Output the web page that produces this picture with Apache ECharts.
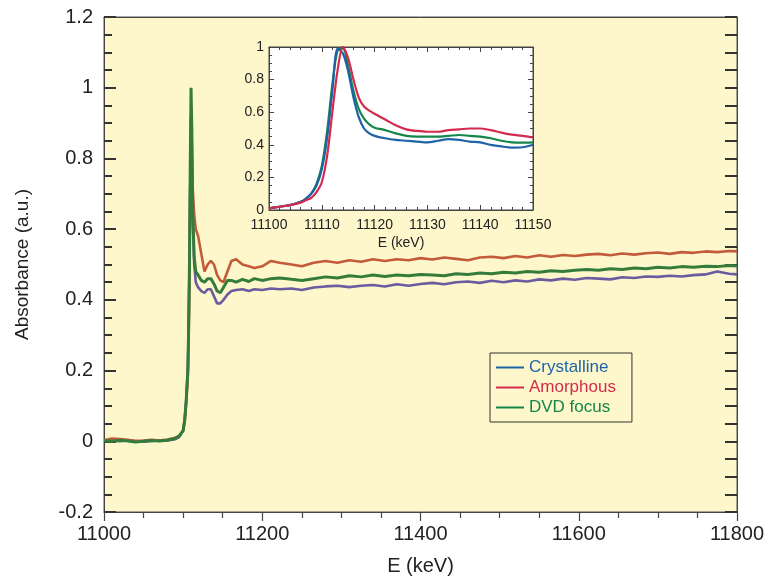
<!DOCTYPE html>
<html><head><meta charset="utf-8">
<script src="https://cdn.jsdelivr.net/npm/echarts@6/dist/echarts.min.js"></script>
<style>html,body{margin:0;padding:0;background:#fff}#c{width:769px;height:581px}</style>
</head><body><div id="c"></div>
<script>
// ---- main panel data ----
const mainE = [
 11000,11010,11020,11030,11040,11050,11060,11070,11080,11090,
 11095,11100,11102,11104,11106,11107,11108,11109,11110,11111,
 11112,11114,11116,11119,11123,11127,11131,11135,11139,11143,
 11147,11151,11156,11161,11167,11175,11183,11190,11200,11211,
 11222,11237,11250,11265,11280,11295,11310,11325,11340,11355,
 11370,11385,11400,11415,11430,11445,11460,11475,11490,11505,
 11520,11535,11550,11565,11580,11595,11610,11625,11640,11655,
 11670,11685,11700,11715,11730,11745,11760,11775,11790,11800];
const mainDVD = [
 0.002,0.000,0.003,0.001,-0.002,0.000,0.002,0.001,0.003,0.008,
 0.015,0.03,0.06,0.12,0.20,0.32,0.50,0.78,1.00,0.88,
 0.66,0.52,0.48,0.47,0.455,0.45,0.46,0.46,0.445,0.425,
 0.42,0.435,0.455,0.455,0.45,0.458,0.452,0.46,0.455,0.46,
 0.462,0.458,0.455,0.46,0.465,0.462,0.468,0.465,0.47,0.466,
 0.47,0.468,0.472,0.47,0.468,0.474,0.472,0.476,0.474,0.478,
 0.476,0.48,0.478,0.482,0.48,0.484,0.486,0.484,0.488,0.486,
 0.49,0.488,0.492,0.49,0.494,0.492,0.495,0.494,0.497,0.496];
const mainAmorphous = [
 0.003,0.008,0.006,0.004,0.001,0.002,0.004,0.002,0.005,0.01,
 0.015,0.03,0.06,0.11,0.19,0.30,0.46,0.72,0.92,0.85,
 0.72,0.64,0.60,0.58,0.53,0.48,0.50,0.51,0.50,0.47,
 0.455,0.45,0.48,0.51,0.515,0.50,0.495,0.49,0.495,0.51,
 0.505,0.50,0.495,0.505,0.51,0.505,0.512,0.508,0.515,0.51,
 0.515,0.512,0.518,0.514,0.52,0.516,0.512,0.52,0.522,0.518,
 0.524,0.52,0.526,0.522,0.527,0.524,0.528,0.53,0.526,0.531,
 0.528,0.532,0.534,0.53,0.535,0.533,0.537,0.535,0.538,0.537];
const mainCrystalline = [
 0.001,0.002,0.000,0.002,0.001,-0.001,0.001,0.003,0.002,0.006,
 0.012,0.03,0.06,0.12,0.21,0.33,0.50,0.72,0.86,0.80,
 0.64,0.50,0.45,0.435,0.425,0.42,0.43,0.43,0.41,0.39,
 0.39,0.40,0.415,0.425,0.428,0.43,0.425,0.43,0.428,0.432,
 0.43,0.432,0.428,0.435,0.438,0.44,0.436,0.44,0.442,0.438,
 0.444,0.44,0.445,0.448,0.444,0.45,0.452,0.448,0.454,0.45,
 0.455,0.452,0.458,0.455,0.46,0.457,0.462,0.46,0.458,0.464,
 0.462,0.466,0.465,0.468,0.466,0.47,0.472,0.48,0.474,0.472];

// ---- inset data ----
const insetE = [
 11100,11102,11104,11106,11107,11108,11109,11110,11111,11112,
 11113,11114,11115,11116,11117,11118,11119,11120,11122,11124,
 11126,11128,11130,11132,11134,11136,11138,11140,11142,11144,
 11146,11148,11150];
const insetCrystalline = [
 0.01,0.02,0.03,0.05,0.07,0.10,0.15,0.25,0.44,0.73,
 0.99,0.96,0.85,0.69,0.57,0.50,0.47,0.455,0.44,0.43,
 0.425,0.42,0.415,0.425,0.435,0.43,0.42,0.415,0.40,0.39,
 0.383,0.385,0.40];
const insetAmorphous = [
 0.01,0.02,0.03,0.045,0.06,0.075,0.11,0.17,0.33,0.60,
 0.86,1.0,0.93,0.80,0.69,0.635,0.61,0.59,0.555,0.52,
 0.495,0.485,0.48,0.48,0.49,0.495,0.50,0.50,0.49,0.475,
 0.462,0.455,0.445];
const insetDVD = [
 0.01,0.02,0.03,0.05,0.07,0.10,0.16,0.27,0.48,0.77,
 0.98,0.99,0.88,0.73,0.62,0.56,0.525,0.505,0.49,0.47,
 0.455,0.45,0.45,0.45,0.455,0.46,0.455,0.45,0.44,0.425,
 0.415,0.413,0.415];

const legendNames = ['Crystalline','Amorphous','DVD focus'];
const legendColors = ['#1d63a6','#d42a4e','#15864a'];

const pair = (xs, ys) => xs.map((x, i) => [x, ys[i]]);
const FONT = 'Liberation Sans, Arial, sans-serif';
const TXT = '#222';

const chart = echarts.init(document.getElementById('c'), null, {renderer: 'canvas'});
const axisLineStyle = {show: true, onZero: false, lineStyle: {color: '#444', width: 1}};

const option = {
  animation: false,
  backgroundColor: '#fff',
  grid: [
    {left: 104, right: 32, top: 17, bottom: 68, show: true, backgroundColor: '#fdf7cb', borderColor: '#555', borderWidth: 1},
    {left: 269, top: 47, width: 264, height: 163, show: true, backgroundColor: '#ffffff', borderColor: '#444', borderWidth: 1}
  ],
  xAxis: [
    {gridIndex: 0, type: 'value', min: 11000, max: 11800, interval: 200, position: 'bottom',
     axisLine: axisLineStyle, splitLine: {show: false},
     axisTick: {show: true, inside: false, length: 9, lineStyle: {color: '#444', width: 1.2}},
     minorTick: {show: true, splitNumber: 4, length: 6, lineStyle: {color: '#444', width: 1.2}},
     axisLabel: {color: TXT, fontSize: 20, fontFamily: FONT, margin: 12, formatter: v => String(v)},
     name: 'E (keV)', nameLocation: 'middle', nameGap: 44,
     nameTextStyle: {color: TXT, fontSize: 20, fontFamily: FONT}},
    {gridIndex: 0, type: 'value', min: 11000, max: 11800, interval: 200, position: 'top',
     axisLine: axisLineStyle, axisTick: {show: false}, axisLabel: {show: false}, splitLine: {show: false}},
    {gridIndex: 1, type: 'value', min: 11100, max: 11150, interval: 10, position: 'bottom',
     axisLine: axisLineStyle, splitLine: {show: false},
     axisTick: {show: true, inside: true, length: 5, lineStyle: {color: '#444'}},
     minorTick: {show: true, splitNumber: 5, length: 3, lineStyle: {color: '#444'}},
     axisLabel: {color: TXT, fontSize: 14, fontFamily: FONT, margin: 8, formatter: v => String(v)},
     name: 'E (keV)', nameLocation: 'middle', nameGap: 26,
     nameTextStyle: {color: TXT, fontSize: 14, fontFamily: FONT}},
    {gridIndex: 1, type: 'value', min: 11100, max: 11150, interval: 10, position: 'top',
     axisLine: axisLineStyle, splitLine: {show: false},
     axisTick: {show: true, inside: true, length: 5, lineStyle: {color: '#444'}},
     minorTick: {show: true, splitNumber: 5, length: 3, lineStyle: {color: '#444'}},
     axisLabel: {show: false}}
  ],
  yAxis: [
    {gridIndex: 0, type: 'value', min: -0.2, max: 1.2, interval: 0.2, position: 'left',
     axisLine: axisLineStyle, splitLine: {show: false},
     axisTick: {show: true, inside: true, length: 12, lineStyle: {color: '#333', width: 2}},
     minorTick: {show: true, splitNumber: 4, length: 8, lineStyle: {color: '#333', width: 2}},
     axisLabel: {color: TXT, fontSize: 20, fontFamily: FONT, margin: 11},
     name: 'Absorbance (a.u.)', nameLocation: 'middle', nameGap: 72, nameRotate: 90,
     nameTextStyle: {color: TXT, fontSize: 19, fontFamily: FONT}},
    {gridIndex: 0, type: 'value', min: -0.2, max: 1.2, interval: 0.2, position: 'right',
     axisLine: axisLineStyle, splitLine: {show: false},
     axisTick: {show: true, inside: true, length: 12, lineStyle: {color: '#333', width: 2}},
     minorTick: {show: true, splitNumber: 4, length: 12, lineStyle: {color: '#333', width: 2}},
     axisLabel: {show: false}},
    {gridIndex: 1, type: 'value', min: 0, max: 1, interval: 0.2, position: 'left',
     axisLine: axisLineStyle, splitLine: {show: false},
     axisTick: {show: true, inside: true, length: 5, lineStyle: {color: '#444'}},
     minorTick: {show: true, splitNumber: 4, length: 3, lineStyle: {color: '#444'}},
     axisLabel: {color: TXT, fontSize: 14, fontFamily: FONT, margin: 5}},
    {gridIndex: 1, type: 'value', min: 0, max: 1, interval: 0.2, position: 'right',
     axisLine: axisLineStyle, splitLine: {show: false},
     axisTick: {show: true, inside: true, length: 5, lineStyle: {color: '#444'}},
     minorTick: {show: true, splitNumber: 4, length: 3, lineStyle: {color: '#444'}},
     axisLabel: {show: false}}
  ],
  legend: {
    orient: 'vertical', left: 490, top: 353, itemGap: 3, itemWidth: 28, itemHeight: 2, icon: 'rect',
    padding: [6, 16, 6, 6], borderColor: '#333', borderWidth: 1, backgroundColor: 'transparent',
    textStyle: {fontSize: 17, fontFamily: FONT},
    data: legendNames.map((n, i) => ({name: n, textStyle: {color: legendColors[i]}}))
  },
  series: [
    {name: 'Crystalline main', type: 'line', xAxisIndex: 0, yAxisIndex: 0, showSymbol: false,
     data: pair(mainE, mainCrystalline), lineStyle: {color: '#6a5c9e', width: 2.6}, itemStyle: {color: '#6a5c9e'}},
    {name: 'Amorphous main', type: 'line', xAxisIndex: 0, yAxisIndex: 0, showSymbol: false,
     data: pair(mainE, mainAmorphous), lineStyle: {color: '#c35b3a', width: 2.6}, itemStyle: {color: '#c35b3a'}},
    {name: 'DVD focus main', type: 'line', xAxisIndex: 0, yAxisIndex: 0, showSymbol: false,
     data: pair(mainE, mainDVD), lineStyle: {color: '#347c3c', width: 3}, itemStyle: {color: '#347c3c'}},
    {name: 'DVD focus', type: 'line', xAxisIndex: 2, yAxisIndex: 2, showSymbol: false, smooth: 0.3,
     data: pair(insetE, insetDVD), lineStyle: {color: legendColors[2], width: 2.2}, itemStyle: {color: legendColors[2]}},
    {name: 'Crystalline', type: 'line', xAxisIndex: 2, yAxisIndex: 2, showSymbol: false, smooth: 0.3,
     data: pair(insetE, insetCrystalline), lineStyle: {color: legendColors[0], width: 2.2}, itemStyle: {color: legendColors[0]}},
    {name: 'Amorphous', type: 'line', xAxisIndex: 2, yAxisIndex: 2, showSymbol: false, smooth: 0.3,
     data: pair(insetE, insetAmorphous), lineStyle: {color: legendColors[1], width: 2.2}, itemStyle: {color: legendColors[1]}}
  ]
};
chart.setOption(option);
</script></body></html>
